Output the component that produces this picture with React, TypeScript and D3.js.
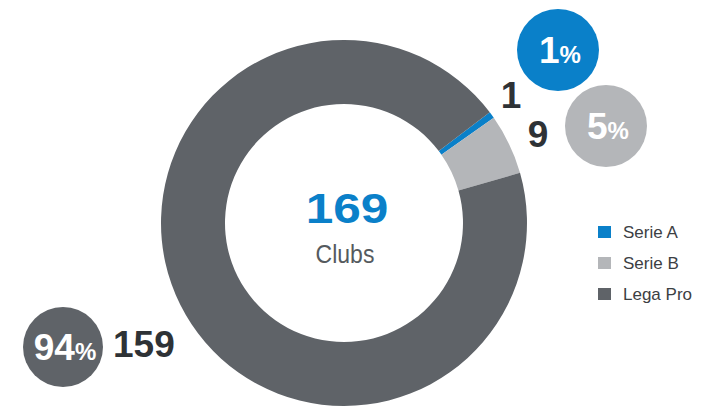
import React from "react";
import * as d3 from "d3";

const categories = ["Serie A", "Serie B", "Lega Pro"];
const values = [1, 9, 159];
const colors = ["#0a80c9", "#b4b6b9", "#5f6368"];
const centerLabel = "Clubs";

const W = 708;
const H = 406;
const cx = 344;
const cy = 223;
const outerR = 183;
const innerR = 119;
const startDeg = 52.8;

// layout for callouts (bubble center, number label position)
const bubbles = [
  { bx: 558, by: 50, r: 41, nx: 511, ny: 108, anchor: "middle" },
  { bx: 606, by: 126, r: 41, nx: 538, ny: 147, anchor: "middle" },
  { bx: 63, by: 347, r: 40, nx: 113, ny: 357, anchor: "start" },
];

export default function App() {
  const total = d3.sum(values);
  const pie = d3
    .pie<number>()
    .sort(null)
    .value((d) => d)
    .startAngle((startDeg * Math.PI) / 180)
    .endAngle((startDeg * Math.PI) / 180 + 2 * Math.PI);
  const arcs = pie(values);
  const arcGen = d3.arc<d3.PieArcDatum<number>>().innerRadius(innerR).outerRadius(outerR);
  const font = "'Liberation Sans', Arial, Helvetica, sans-serif";

  return (
    <svg
      width={W}
      height={H}
      style={{ position: "absolute", left: 0, top: 0, display: "block", background: "#fff" }}
      fontFamily={font}
    >
      <g transform={`translate(${cx},${cy})`}>
        {arcs.map((a, i) => (
          <path key={i} d={arcGen(a) || ""} fill={colors[i]} />
        ))}
        <text
          transform="translate(3,0) scale(1.18,1)"
          textAnchor="middle"
          fontSize={42}
          fontWeight="bold"
          fill={colors[0]}
        >
          {total}
        </text>
        <text
          transform="translate(1,40) scale(0.92,1)"
          textAnchor="middle"
          fontSize={25}
          fill="#555a5e"
        >
          {centerLabel}
        </text>
      </g>
      {values.map((v, i) => {
        const b = bubbles[i];
        const pct = Math.round((v / total) * 100);
        return (
          <g key={i}>
            <circle cx={b.bx} cy={b.by} r={b.r} fill={colors[i]} />
            <text x={b.bx + 2} y={b.by + 13} textAnchor="middle" fill="#fff" fontWeight="bold">
              <tspan fontSize={37}>{pct}</tspan>
              <tspan fontSize={24}>%</tspan>
            </text>
            <text
              x={b.nx}
              y={b.ny}
              textAnchor={b.anchor}
              fontSize={37}
              fontWeight="bold"
              fill="#2e3236"
            >
              {v}
            </text>
          </g>
        );
      })}
      <g transform="translate(598,226)">
        {categories.map((c, i) => (
          <g key={c} transform={`translate(0,${i * 31})`}>
            <rect x={0} y={0} width={13} height={12} fill={colors[i]} />
            <text x={25} y={12} fontSize={17} fill="#3c4043">
              {c}
            </text>
          </g>
        ))}
      </g>
    </svg>
  );
}
